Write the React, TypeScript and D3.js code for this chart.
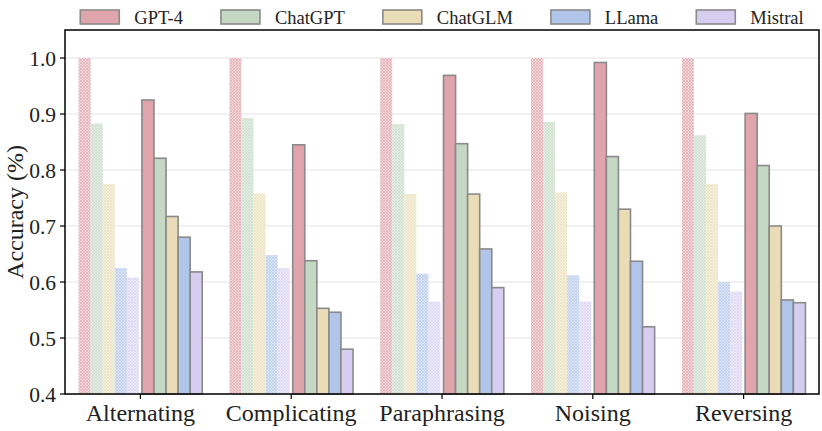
import React from "react";
import * as d3 from "d3";

const categories = ["Alternating", "Complicating", "Paraphrasing", "Noising", "Reversing"];
const models = ["GPT-4", "ChatGPT", "ChatGLM", "LLama", "Mistral"];
const colors = ["#E0A4AC", "#C4D8C4", "#EADCB6", "#B1C5EA", "#D6CEF0"];

// hatched (original) accuracy per model, indexed by category
const originalGPT4 = [1.0, 1.0, 1.0, 1.0, 1.0];
const originalChatGPT = [0.883, 0.893, 0.882, 0.886, 0.862];
const originalChatGLM = [0.775, 0.758, 0.757, 0.76, 0.775];
const originalLLama = [0.625, 0.648, 0.615, 0.612, 0.6];
const originalMistral = [0.608, 0.625, 0.565, 0.565, 0.583];

// solid (perturbed) accuracy per model
const perturbedGPT4 = [0.925, 0.845, 0.969, 0.992, 0.901];
const perturbedChatGPT = [0.821, 0.638, 0.847, 0.824, 0.808];
const perturbedChatGLM = [0.717, 0.553, 0.757, 0.73, 0.7];
const perturbedLLama = [0.68, 0.546, 0.659, 0.637, 0.568];
const perturbedMistral = [0.618, 0.48, 0.59, 0.52, 0.563];

const yTicks = [0.4, 0.5, 0.6, 0.7, 0.8, 0.9, 1.0];

const original = [originalGPT4, originalChatGPT, originalChatGLM, originalLLama, originalMistral];
const perturbed = [perturbedGPT4, perturbedChatGPT, perturbedChatGLM, perturbedLLama, perturbedMistral];

const W = 822;
const H = 431;
const M = { left: 65, right: 819, top: 30, bottom: 394 };
const FONT = "'Liberation Serif', 'Times New Roman', serif";

function measure(text: string, size: number): number {
  if (typeof document === "undefined") return text.length * size * 0.5;
  const c = document.createElement("canvas");
  const ctx = c.getContext("2d");
  if (!ctx) return text.length * size * 0.5;
  ctx.font = `${size}px 'Liberation Serif', serif`;
  return ctx.measureText(text).width;
}

export default function App() {
  const x = d3.scaleBand<string>().domain(categories).range([M.left, M.right]).padding(0);
  const y = d3.scaleLinear().domain([0.4, 1.05]).range([M.bottom, M.top]);
  const bw = x.bandwidth();
  const barW = bw * 0.08;
  const gap = bw * 0.01;

  // legend layout
  const legendFont = 18.5;
  const patchW = 39;
  const patchH = 14;
  const textGap = 15;
  const colGap = 38;
  const widths = models.map((m) => patchW + textGap + measure(m, legendFont));
  const total = d3.sum(widths) + colGap * (models.length - 1);
  let lx = (M.left + M.right) / 2 - total / 2;
  const legendX = widths.map((w) => {
    const p = lx;
    lx += w + colGap;
    return p;
  });

  return (
    <svg width={W} height={H} style={{ position: "absolute", left: 0, top: 0, background: "#fff" }}>
      <defs>
        {colors.map((c, i) => (
          <pattern key={i} id={`hatch${i}`} width={3} height={3} patternUnits="userSpaceOnUse">
            <rect width={3} height={3} fill="#fff" />
            <rect width={3} height={3} fill={c} opacity={0.45} />
            <path d="M0,0 L3,3 M3,0 L0,3" stroke={c} strokeWidth={0.7} opacity={0.8} />
          </pattern>
        ))}
      </defs>
      {/* grid */}
      {yTicks.map((t) => (
        <line key={t} x1={M.left} x2={M.right} y1={y(t)} y2={y(t)} stroke="#e2e2e2" strokeWidth={1} />
      ))}
      {/* bars */}
      {categories.map((cat, ci) => {
        const c = (x(cat) as number) + bw / 2;
        return (
          <g key={cat}>
            {models.map((m, mi) => {
              const v = original[mi][ci];
              const bx = c - gap - (models.length - mi) * barW;
              return (
                <rect
                  key={"o" + m}
                  x={bx}
                  y={y(v)}
                  width={barW}
                  height={M.bottom - y(v)}
                  fill={`url(#hatch${mi})`}
                />
              );
            })}
            {models.map((m, mi) => {
              const v = perturbed[mi][ci];
              const bx = c + gap + mi * barW;
              return (
                <rect
                  key={"p" + m}
                  x={bx}
                  y={y(v)}
                  width={barW}
                  height={M.bottom - y(v)}
                  fill={colors[mi]}
                  stroke="#8a8a8a"
                  strokeWidth={1.6}
                />
              );
            })}
          </g>
        );
      })}
      {/* frame */}
      <rect
        x={M.left}
        y={M.top}
        width={M.right - M.left}
        height={M.bottom - M.top}
        fill="none"
        stroke="#000"
        strokeWidth={1.5}
      />
      {/* y ticks */}
      {yTicks.map((t) => (
        <g key={t}>
          <line x1={M.left - 5} x2={M.left} y1={y(t)} y2={y(t)} stroke="#000" strokeWidth={1.2} />
          <text
            x={M.left - 9}
            y={y(t)}
            dy="0.35em"
            textAnchor="end"
            fontFamily={FONT}
            fontSize={21.5}
            fill="#222"
          >
            {t.toFixed(1)}
          </text>
        </g>
      ))}
      {/* x ticks */}
      {categories.map((cat) => {
        const c = (x(cat) as number) + bw / 2;
        return (
          <g key={cat}>
            <line x1={c} x2={c} y1={M.bottom} y2={M.bottom + 5} stroke="#000" strokeWidth={1.2} />
            <text x={c} y={421} textAnchor="middle" fontFamily={FONT} fontSize={24} fill="#222">
              {cat}
            </text>
          </g>
        );
      })}
      {/* y label */}
      <text
        transform={`translate(23,${(M.top + M.bottom) / 2}) rotate(-90)`}
        textAnchor="middle"
        fontFamily={FONT}
        fontSize={24}
        fill="#222"
      >
        Accuracy (%)
      </text>
      {/* legend */}
      {models.map((m, i) => (
        <g key={m}>
          <rect
            x={legendX[i]}
            y={10}
            width={patchW}
            height={patchH}
            fill={colors[i]}
            stroke="#8a8a8a"
            strokeWidth={1.6}
          />
          <text
            x={legendX[i] + patchW + textGap}
            y={24}
            fontFamily={FONT}
            fontSize={legendFont}
            fill="#222"
          >
            {m}
          </text>
        </g>
      ))}
    </svg>
  );
}
